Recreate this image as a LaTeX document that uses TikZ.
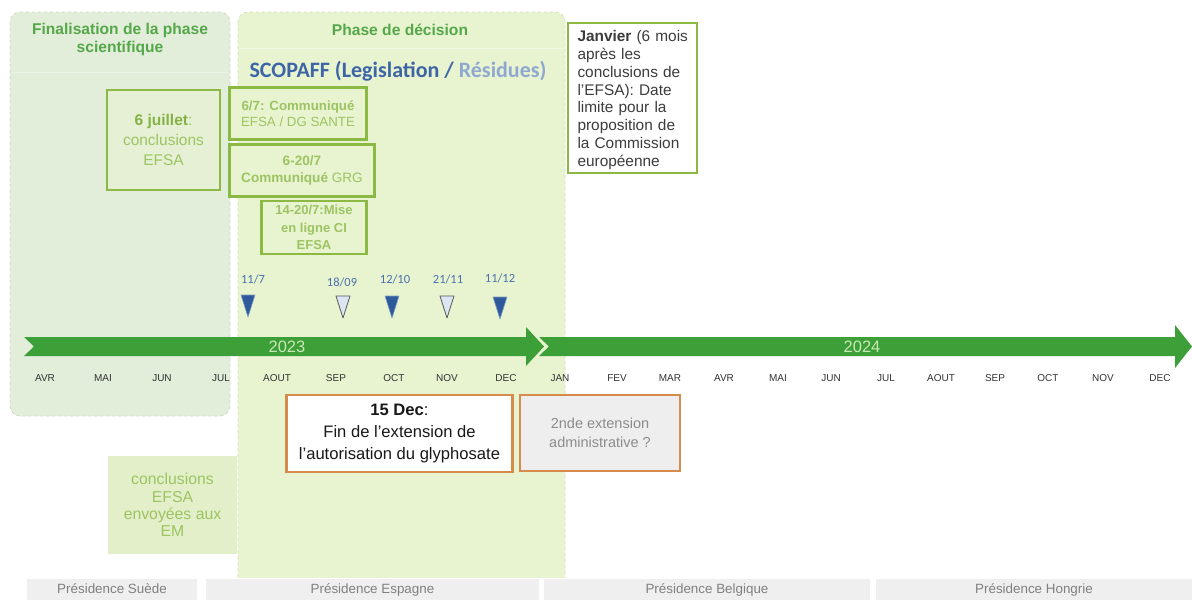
\documentclass[tikz,border=0pt]{standalone}
\usepackage{fontspec}
\setmainfont{Liberation Sans}
\newfontfamily\carlito{Carlito}
\definecolor{leftbg}{HTML}{E2EDDA}
\definecolor{leftbd}{HTML}{CFDDC8}
\definecolor{rightbg}{HTML}{E8F3D0}
\definecolor{rightbd}{HTML}{D3E3BA}
\definecolor{titlegreen}{HTML}{55A849}
\definecolor{boxgreen}{HTML}{8CB944}
\definecolor{txtgreen}{HTML}{9DC462}
\definecolor{txtgreenD}{HTML}{86B245}
\definecolor{arrowgreen}{HTML}{3D9F37}
\definecolor{yeargreen}{HTML}{C8E8B8}
\definecolor{triblue}{HTML}{2E5A9B}
\definecolor{trilight}{HTML}{DCE6F3}
\definecolor{scopblue}{HTML}{3E66A6}
\definecolor{reslight}{HTML}{8FA8D0}
\definecolor{datelabel}{HTML}{4A72AE}
\definecolor{orangeb}{HTML}{D58B4B}
\definecolor{presgray}{HTML}{EFEFEF}
\definecolor{prestext}{HTML}{808080}
\definecolor{extgray}{HTML}{EEEEEE}
\definecolor{exttext}{HTML}{8C8C8C}
\definecolor{janvtext}{HTML}{3C3C3C}
\definecolor{concbg}{HTML}{E2EFC9}
\begin{document}
\begin{tikzpicture}[x=1pt,y=-1pt,
  phasetitle/.style={font=\fontsize{15.6}{18}\selectfont\bfseries, text=titlegreen, align=center, inner sep=0pt},
  gbox/.style={draw=boxgreen, line width=2.6pt, align=center, inner sep=0pt, text=txtgreen},
  obox/.style={draw=orangeb, line width=2.4pt, align=center, inner sep=0pt},
  month/.style={font=\fontsize{10}{12}\selectfont, text=black!80, inner sep=0pt},
  datelbl/.style={font=\carlito\fontsize{12.5}{14}\selectfont, text=datelabel, inner sep=0pt},
  trifull/.style={fill=triblue, draw=triblue!60!white, line width=0.6pt, line join=round},
  triempty/.style={fill=trilight, draw=black!65, line width=0.8pt, line join=round},
  pres/.style={fill=presgray, font=\fontsize{13.4}{15}\selectfont, text=prestext, inner sep=0pt,
    minimum height=21pt, text height=9.5pt, text depth=2.5pt},
  yearlbl/.style={font=\fontsize{16.5}{18}\selectfont, text=yeargreen, inner sep=0pt}
]
\useasboundingbox (0,0) rectangle (1192,600);
\fill[white] (0,0) rectangle (1192,600);

% phase backgrounds
\draw[fill=leftbg, draw=leftbd, dashed, line width=0.8pt, rounded corners=10pt] (10,12) rectangle (230,416);
\draw[white!35!leftbg, line width=0.8pt] (11,72) -- (229,72);
\begin{scope}
  \clip (0,0) rectangle (1192,577);
  \draw[fill=rightbg, draw=rightbd, dashed, line width=0.8pt, rounded corners=10pt] (238,12) rectangle (565,610);
\end{scope}
\draw[white!35!rightbg, line width=0.8pt] (239,48) -- (564,48);

% conclusions box below
\node[fill=concbg, minimum width=129pt, minimum height=98pt, inner sep=0pt, align=center,
  font=\fontsize{15.8}{17.2}\selectfont, text=txtgreen] (conc) at (172.5,505) {conclusions\\EFSA\\envoyées aux\\EM};

% titles
\node[phasetitle] (tleft) at (120,39) {Finalisation de la phase\\scientifique};
\node[phasetitle] (tright) at (400,30) {Phase de décision};
\node[font=\carlito\fontsize{22}{24}\selectfont\bfseries, inner sep=0pt] (scop) at (398,71)
  {\textcolor{scopblue}{SCOPAFF (Legislation /} \textcolor{reslight}{Résidues)}};

% green boxes
\node[gbox, fill=leftbg!50!rightbg, minimum width=113pt, minimum height=100pt,
  font=\fontsize{15.5}{20}\selectfont] (juil) at (163.5,140)
  {\textcolor{txtgreenD}{\bfseries 6 juillet}:\\conclusions\\EFSA};
\node[gbox, fill=rightbg, minimum width=137pt, minimum height=52pt,
  font=\fontsize{13.3}{16.5}\selectfont] (c67) at (298,113.5)
  {{\bfseries 6/7: Communiqué}\\EFSA / DG SANTE};
\node[gbox, fill=rightbg, minimum width=145pt, minimum height=52pt,
  font=\fontsize{13.6}{17}\selectfont] (c620) at (302,170.5)
  {{\bfseries 6-20/7}\\{\bfseries Communiqué} GRG};
\node[gbox, fill=rightbg, minimum width=105pt, minimum height=53pt,
  font=\fontsize{13}{17.5}\selectfont\bfseries] (c1420) at (314,227.5)
  {14-20/7:Mise\\en ligne CI\\EFSA};

% Janvier box
\node[draw=boxgreen, line width=2.2pt, fill=white, minimum width=129pt, minimum height=150pt,
  inner sep=0pt] (janvbox) at (632.5,98) {};
\node[text width=116pt, align=left, inner sep=0pt, text=janvtext,
  font=\fontsize{15.4}{17.8}\selectfont] (janv) at ([xshift=3pt,yshift=-2pt]janvbox.center)
  {\textbf{Janvier} (6 mois\\après les\\conclusions de\\l'EFSA): Date\\limite pour la\\proposition de\\la Commission\\européenne};

% date markers
\node[datelbl] (d1) at (253,279) {11/7};
\node[datelbl] (d2) at (342,282) {18/09};
\node[datelbl] (d3) at (395,279) {12/10};
\node[datelbl] (d4) at (448,279) {21/11};
\node[datelbl] (d5) at (500,278) {11/12};
\draw[trifull,  shift={(248,295)}] (-7,0) -- (7,0) -- (0,22) -- cycle;
\draw[triempty, shift={(343,296)}] (-7,0) -- (7,0) -- (0,22) -- cycle;
\draw[trifull,  shift={(392,296)}] (-7,0) -- (7,0) -- (0,22) -- cycle;
\draw[triempty, shift={(447,296)}] (-7,0) -- (7,0) -- (0,22) -- cycle;
\draw[trifull,  shift={(500,297)}] (-7,0) -- (7,0) -- (0,22) -- cycle;

% timeline arrows
\fill[arrowgreen] (24,337) -- (526,337) -- (526,327) -- (544,346.5) -- (526,366) -- (526,356) -- (24,356) -- (34,346.5) -- cycle;
\fill[arrowgreen] (539,337) -- (1175,337) -- (1175,325) -- (1192,346.5) -- (1175,368) -- (1175,356) -- (539,356) -- (549,346.5) -- cycle;
\node[yearlbl] (y23) at (287,347) {2023};
\node[yearlbl] (y24) at (862,347) {2024};

% months
\foreach \x/\m in {45/AVR,103/MAI,162/JUN,221/JUL,277/AOUT,336/SEP,394/OCT,447/NOV,506/DEC,
  560/JAN,617/FEV,670/MAR,724/AVR,778/MAI,831/JUN,886/JUL,941/AOUT,995/SEP,1048/OCT,1103/NOV,1160/DEC}
  \node[month] at (\x,378) {\m};

% orange boxes
\node[obox, fill=white, minimum width=226pt, minimum height=77pt,
  font=\fontsize{16.6}{22}\selectfont, text=black!90] (dec15) at (399.5,433.5)
  {{\bfseries 15 Dec}:\\Fin de l'extension de\\l'autorisation du glyphosate};
\node[obox, fill=extgray, minimum width=160pt, minimum height=76pt,
  font=\fontsize{14.5}{19.5}\selectfont, text=exttext] (ext2) at (600,433)
  {2nde extension\\administrative ?};

% presidencies
\node[pres, minimum width=170pt] (suede) at (112,589.5) {Présidence Suède};
\node[pres, minimum width=333pt] (espagne) at (372.5,589.5) {Présidence Espagne};
\node[pres, minimum width=326pt] (belgique) at (707,589.5) {Présidence Belgique};
\node[pres, minimum width=316pt] (hongrie) at (1034,589.5) {Présidence Hongrie};
\end{tikzpicture}
\end{document}
